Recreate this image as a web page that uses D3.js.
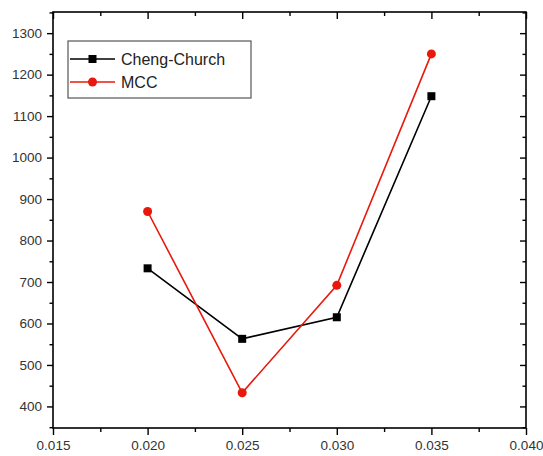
<!DOCTYPE html>
<html>
<head>
<meta charset="utf-8">
<script src="https://cdn.jsdelivr.net/npm/d3@7"></script>
<style>
  body { margin: 0; background: #fff; }
  svg text { font-family: "Liberation Sans", Arial, sans-serif; }
</style>
</head>
<body>
<svg id="chart" width="543" height="456"></svg>
<script>
// data
const xValues = [0.020, 0.025, 0.030, 0.035];
const chengChurch = [733, 563, 615, 1148];
const mcc = [870, 433, 692, 1250];
const seriesNames = ["Cheng-Church", "MCC"];
const xTicks = [0.015, 0.020, 0.025, 0.030, 0.035, 0.040];
const yTicks = [400, 500, 600, 700, 800, 900, 1000, 1100, 1200, 1300];

const svg = d3.select("svg#chart");
const margin = {top: 12, right: 17, bottom: 28, left: 53};
const width = svg.attr("width") - margin.left - margin.right;
const height = svg.attr("height") - margin.top - margin.bottom;

const x = d3.scaleLinear().domain([0.015, 0.040]).range([0, width]);
const y = d3.scaleLinear().domain([348, 1351]).range([height, 0]);

const g = svg.append("g").attr("transform", `translate(${margin.left},${margin.top})`);

// frame
g.append("rect")
    .attr("x", 0).attr("y", 0)
    .attr("width", width).attr("height", height)
    .attr("fill", "none")
    .attr("stroke", "#000")
    .attr("stroke-width", 1.6);

const minorX = d3.range(0.0175, 0.040, 0.005);
const minorY = d3.range(350, 1351, 100);

function styleAxis(sel) {
    sel.select(".domain").remove();
    sel.selectAll("line").attr("stroke", "#000").attr("stroke-width", 1.4);
    sel.selectAll("text")
        .attr("fill", "#333")
        .style("font-size", "13.5px");
}

// bottom axis
g.append("g")
    .attr("transform", `translate(0,${height})`)
    .call(d3.axisBottom(x).tickValues(xTicks).tickFormat(d3.format(".3f")).tickSize(7).tickPadding(5))
    .call(styleAxis);
g.append("g")
    .attr("transform", `translate(0,${height})`)
    .call(d3.axisBottom(x).tickValues(minorX).tickFormat("").tickSize(4))
    .call(styleAxis);

// top axis (ticks pointing inward)
g.append("g")
    .call(d3.axisBottom(x).tickValues(xTicks).tickFormat("").tickSize(7))
    .call(styleAxis);
g.append("g")
    .call(d3.axisBottom(x).tickValues(minorX).tickFormat("").tickSize(4))
    .call(styleAxis);

// left axis
g.append("g")
    .call(d3.axisLeft(y).tickValues(yTicks).tickFormat(d3.format("d")).tickSize(6).tickPadding(5))
    .call(styleAxis);
g.append("g")
    .call(d3.axisLeft(y).tickValues(minorY).tickFormat("").tickSize(3.5))
    .call(styleAxis);

// right axis (ticks pointing inward)
g.append("g")
    .attr("transform", `translate(${width},0)`)
    .call(d3.axisLeft(y).tickValues(yTicks).tickFormat("").tickSize(6))
    .call(styleAxis);
g.append("g")
    .attr("transform", `translate(${width},0)`)
    .call(d3.axisLeft(y).tickValues(minorY).tickFormat("").tickSize(3.5))
    .call(styleAxis);

const line = d3.line()
    .x(d => x(d[0]))
    .y(d => y(d[1]));

const series = [
    {name: seriesNames[0], color: "#000", values: xValues.map((v, i) => [v, chengChurch[i]]), shape: "square"},
    {name: seriesNames[1], color: "#e8190c", values: xValues.map((v, i) => [v, mcc[i]]), shape: "circle"}
];

function drawMarker(sel, s, cx, cy) {
    if (s.shape === "square") {
        sel.append("rect")
            .attr("x", cx - 4).attr("y", cy - 4)
            .attr("width", 8).attr("height", 8)
            .attr("fill", s.color);
    } else {
        sel.append("circle")
            .attr("cx", cx).attr("cy", cy)
            .attr("r", 4.5)
            .attr("fill", s.color);
    }
}

series.forEach(s => {
    g.append("path")
        .datum(s.values)
        .attr("fill", "none")
        .attr("stroke", s.color)
        .attr("stroke-width", 1.6)
        .attr("d", line);
    s.values.forEach(d => drawMarker(g, s, x(d[0]), y(d[1])));
});

// legend
const legend = svg.append("g").attr("transform", "translate(68,41)");
legend.append("rect")
    .attr("width", 183).attr("height", 57)
    .attr("fill", "#fff")
    .attr("stroke", "#555")
    .attr("stroke-width", 1.2);

series.forEach((s, i) => {
    const ly = 18 + i * 23;
    legend.append("line")
        .attr("x1", 2).attr("x2", 47)
        .attr("y1", ly).attr("y2", ly)
        .attr("stroke", s.color)
        .attr("stroke-width", 1.6);
    drawMarker(legend, s, 24.5, ly);
    legend.append("text")
        .attr("x", 53).attr("y", ly + 6)
        .attr("fill", "#222")
        .style("font-size", "16px")
        .text(s.name);
});
</script>
</body>
</html>
